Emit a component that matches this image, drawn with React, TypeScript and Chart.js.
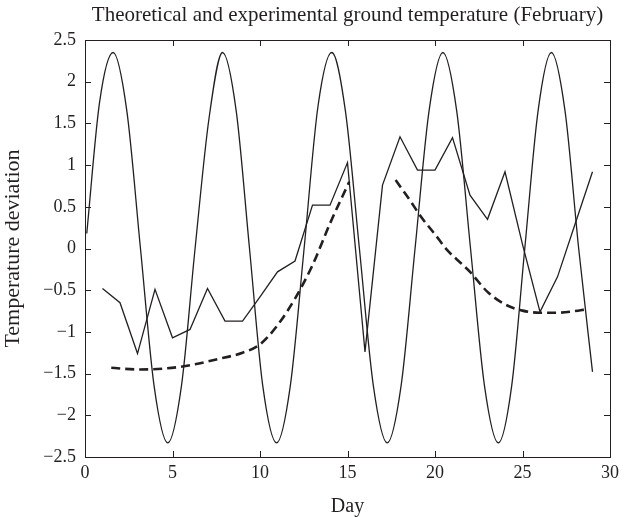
import React, { useEffect, useRef } from 'react';
import { Chart, registerables } from 'chart.js';

Chart.register(...registerables);

const chartTitle = 'Theoretical and experimental ground temperature (February)';
const xAxisTitle = 'Day';
const yAxisTitle = 'Temperature deviation';

const xTickValues = [0, 5, 10, 15, 20, 25, 30];
const xTickLabels = ['0', '5', '10', '15', '20', '25', '30'];
const yTickValues = [-2.5, -2, -1.5, -1, -0.5, 0, 0.5, 1, 1.5, 2, 2.5];
const yTickLabels = ['\u22122.5', '\u22122', '\u22121.5', '\u22121', '\u22120.5', '0', '0.5', '1', '1.5', '2', '2.5'];

// Theoretical (sinusoidal) curve
const theoryDays = [
  0.1, 0.83, 1.61, 2.39, 3.17, 3.95, 4.73, 5.51, 6.29, 7.08, 7.86, 8.64, 9.4, 10.16, 10.95,
  11.73, 12.52, 13.31, 14.1, 14.88, 15.68, 16.48, 17.27, 18.06, 18.86, 19.66, 20.45, 21.24,
  22.03, 22.83, 23.62, 24.38, 25.13, 25.89, 26.65, 27.43, 28.21, 29.0,
];
const theoryValues = [
  0.18, 1.75, 2.35, 1.65, 0, -1.65, -2.33, -1.65, 0, 1.55, 2.35, 1.65, 0, -1.65, -2.33,
  -1.65, 0, 1.7, 2.35, 1.65, 0, -1.65, -2.33, -1.65, 0, 1.65, 2.35, 1.65,
  0, -1.65, -2.33, -1.65, 0, 1.65, 2.35, 1.65, 0, -1.48,
];

// Experimental daily values
const expDays = [
  1, 2, 3, 4, 5, 6, 7, 8, 9, 10, 11, 12, 13, 14, 15, 16, 17, 18, 19, 20, 21, 22, 23, 24, 25, 26, 27, 28, 29,
];
const expValues = [
  -0.48, -0.65, -1.26, -0.49, -1.07, -0.97, -0.48, -0.87, -0.87, -0.58, -0.28, -0.15, 0.52, 0.52,
  1.03, -1.24, 0.76, 1.34, 0.94, 0.94, 1.33, 0.64, 0.35, 0.92, 0.05, -0.76, -0.34, 0.29, 0.92,
];

// Dashed trend, first part
const trendDaysA = [1.5, 3, 4.5, 6, 7.5, 9, 10, 11, 12, 13, 14, 15.1];
const trendValuesA = [-1.43, -1.45, -1.44, -1.4, -1.33, -1.25, -1.15, -0.92, -0.6, -0.2, 0.3, 0.8];
// Dashed trend, second part
const trendDaysB = [17.75, 18.5, 19.2, 20, 20.7, 21.5, 22, 23, 24, 25, 26, 27, 28, 28.6];
const trendValuesB = [0.82, 0.6, 0.38, 0.17, -0.02, -0.18, -0.28, -0.52, -0.67, -0.745, -0.77, -0.77, -0.75, -0.73];

const ink = '#231f20';
const serif = "'Liberation Serif', 'Times New Roman', serif";

const toPoints = (xs: number[], ys: number[]) => xs.map((x, i) => ({ x, y: ys[i] }));

const framePlugin = {
  id: 'frameTicks',
  afterDraw(chart: any) {
    const { ctx, chartArea: a, scales } = chart;
    const xs = scales.x;
    const ys = scales.y;
    const tl = 6;
    ctx.save();
    ctx.strokeStyle = ink;
    ctx.lineWidth = 1;
    ctx.strokeRect(Math.round(a.left) + 0.5, Math.round(a.top) + 0.5, Math.round(a.right - a.left), Math.round(a.bottom - a.top));
    ctx.beginPath();
    for (const v of xTickValues) {
      if (v <= xs.min || v >= xs.max) continue;
      const px = Math.round(xs.getPixelForValue(v)) + 0.5;
      ctx.moveTo(px, a.bottom);
      ctx.lineTo(px, a.bottom - tl);
      ctx.moveTo(px, a.top);
      ctx.lineTo(px, a.top + tl);
    }
    for (const v of yTickValues) {
      if (v <= ys.min || v >= ys.max) continue;
      const py = Math.round(ys.getPixelForValue(v)) + 0.5;
      ctx.moveTo(a.left, py);
      ctx.lineTo(a.left + tl, py);
      ctx.moveTo(a.right, py);
      ctx.lineTo(a.right - tl, py);
    }
    ctx.stroke();
    ctx.restore();
  },
};

export default function App() {
  const canvasRef = useRef<HTMLCanvasElement | null>(null);

  useEffect(() => {
    const canvas = canvasRef.current;
    if (!canvas) return;
    const chart = new Chart(canvas, {
      type: 'line',
      data: {
        datasets: [
          {
            label: 'Theoretical',
            data: toPoints(theoryDays, theoryValues),
            borderColor: ink,
            borderWidth: 1.3,
            pointRadius: 0,
            cubicInterpolationMode: 'monotone',
            fill: false,
          },
          {
            label: 'Experimental',
            data: toPoints(expDays, expValues),
            borderColor: ink,
            borderWidth: 1.3,
            pointRadius: 0,
            tension: 0,
            fill: false,
          },
          {
            label: 'Trend A',
            data: toPoints(trendDaysA, trendValuesA),
            borderColor: ink,
            borderWidth: 2.6,
            borderDash: [9, 5],
            pointRadius: 0,
            cubicInterpolationMode: 'monotone',
            fill: false,
          },
          {
            label: 'Trend B',
            data: toPoints(trendDaysB, trendValuesB),
            borderColor: ink,
            borderWidth: 2.6,
            borderDash: [9, 5],
            pointRadius: 0,
            cubicInterpolationMode: 'monotone',
            fill: false,
          },
        ],
      },
      options: {
        responsive: false,
        animation: false,
        devicePixelRatio: 1,
        layout: { padding: { left: 0, right: 11, top: 0, bottom: 0 } },
        plugins: {
          legend: { display: false },
          tooltip: { enabled: false },
          title: {
            display: true,
            text: chartTitle,
            fullSize: false,
            color: ink,
            font: { family: serif, size: 21, weight: 'normal' },
            padding: { top: 3, bottom: 11.8 },
          },
        },
        scales: {
          x: {
            type: 'linear',
            min: 0,
            max: 30,
            grid: { display: false, drawTicks: false },
            border: { display: false },
            afterBuildTicks: (scale: any) => {
              scale.ticks = xTickValues.map((v) => ({ value: v }));
            },
            afterFit: (scale: any) => {
              scale.height = 60;
            },
            ticks: {
              color: ink,
              font: { family: serif, size: 18 },
              padding: 5,
              maxRotation: 0,
              autoSkip: false,
              callback: (_v: any, i: number) => xTickLabels[i],
            },
            title: {
              display: true,
              text: xAxisTitle,
              color: ink,
              font: { family: serif, size: 20 },
              padding: { top: 0, bottom: -2 },
            },
          },
          y: {
            type: 'linear',
            min: -2.5,
            max: 2.5,
            grid: { display: false, drawTicks: false },
            border: { display: false },
            afterBuildTicks: (scale: any) => {
              scale.ticks = yTickValues.map((v) => ({ value: v }));
            },
            afterFit: (scale: any) => {
              scale.width = 85;
            },
            ticks: {
              color: ink,
              font: { family: serif, size: 18 },
              padding: 9,
              autoSkip: false,
              callback: (_v: any, i: number) => yTickLabels[i],
            },
            title: {
              display: true,
              text: yAxisTitle,
              color: ink,
              font: { family: serif, size: 22 },
              padding: { top: 0, bottom: 0 },
            },
          },
        },
      },
      plugins: [framePlugin],
    } as any);
    return () => chart.destroy();
  }, []);

  return (
    <div style={{ position: 'fixed', left: 0, top: 0, width: 624, height: 517, background: '#fff' }}>
      <canvas ref={canvasRef} width={624} height={517} style={{ display: 'block', width: 624, height: 517 }} />
    </div>
  );
}
